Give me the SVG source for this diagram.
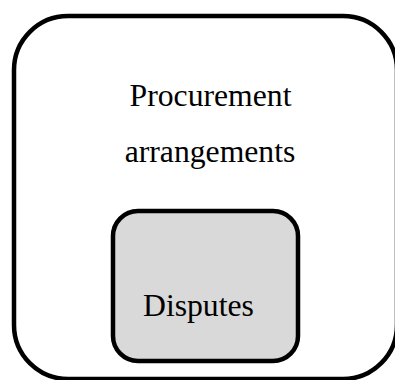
<svg xmlns="http://www.w3.org/2000/svg" width="395" height="380" viewBox="0 0 395 380">
  <style>
    .box { stroke: #000; stroke-width: 4.5; }
    .label { font-family: "Liberation Serif", "Times New Roman", serif; font-size: 31.7px; fill: #000; }
  </style>
  <rect width="395" height="380" fill="#fff"/>
  <g id="procurement-arrangements">
    <rect class="box" x="14" y="16" width="383" height="363" rx="54" ry="54" fill="#fff"/>
    <text class="label" x="210.5" y="106" text-anchor="middle">Procurement</text>
    <text class="label" x="210" y="162" text-anchor="middle">arrangements</text>
  </g>
  <g id="disputes">
    <rect class="box" x="113" y="211" width="185" height="150" rx="25" ry="25" fill="#d9d9d9"/>
    <text class="label" x="143" y="316">Disputes</text>
  </g>
  <g id="connectors"/>
</svg>
